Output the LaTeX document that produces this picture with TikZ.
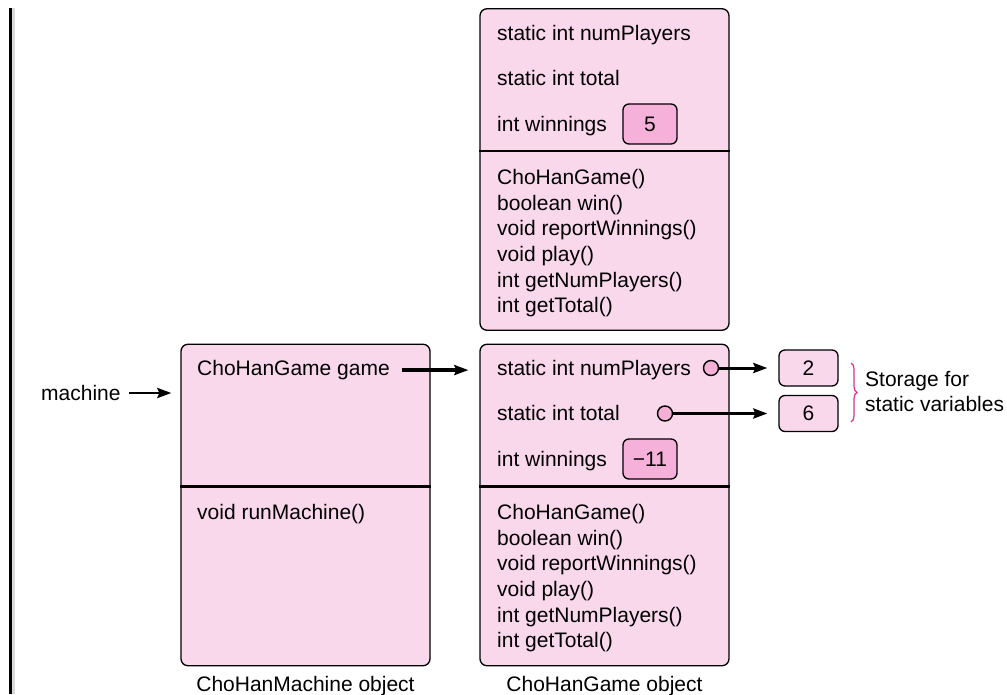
\documentclass[tikz,border=0pt]{standalone}
\usepackage{fontspec}
\setmainfont{Liberation Sans}
\usetikzlibrary{positioning, arrows.meta, decorations.pathreplacing}
\definecolor{ObjPink}{HTML}{F9D8EB}
\definecolor{ValPink}{HTML}{F5B1D9}
\definecolor{DotPink}{HTML}{F5B0D8}
\definecolor{BraceMagenta}{HTML}{E0308F}

\begin{document}
\begin{tikzpicture}[x=1pt, y=-1pt, >={Stealth[length=14pt, width=10pt, inset=2pt]},
    font=\fontsize{21}{25.6}\selectfont,
    objbox/.style={draw, line width=1.3pt, fill=ObjPink, rounded corners=7pt, minimum width=249pt, minimum height=321.5pt, inner sep=0pt},
    valbox/.style={draw, line width=1.3pt, fill=ValPink, rounded corners=6pt, minimum width=54pt, minimum height=40pt, inner sep=0pt},
    statbox/.style={draw, line width=1.3pt, fill=ObjPink, rounded corners=6pt, minimum width=59pt, minimum height=36pt, inner sep=0pt},
    txt/.style={inner sep=0pt, anchor=base west},
    methods/.style={inner sep=0pt, anchor=north west, align=left},
    dot/.style={circle, draw, line width=1.4pt, fill=DotPink, minimum size=15pt, inner sep=0pt},
    divider/.style={line width=2.6pt},
    ptr/.style={->, line width=2.6pt}]
      \useasboundingbox (0,0) rectangle (1007,694);

      % Page edge
      \draw[line width=3pt, black!15] (13.5,8) -- (13.5,694);
      \draw[line width=3pt] (10.5,8) -- (10.5,694);

      % Objects
      \node [objbox] (classbox) at (604.5,169.5) {};
      \node [objbox] (gamebox) at (604.5,505) {};
      \node [objbox] (machinebox) at (305.5,505) {};
      \draw[divider] ([yshift=-143pt]classbox.north west) -- ([yshift=-143pt]classbox.north east);
      \draw[divider] ([yshift=-143pt]gamebox.north west) -- ([yshift=-143pt]gamebox.north east);
      \draw[divider] ([yshift=-143pt]machinebox.north west) -- ([yshift=-143pt]machinebox.north east);

      % Class fields and methods
      \node [txt] (classnum) at (497,40.5) {static int numPlayers};
      \node [txt] (classtotal) at (497,85.5) {static int total};
      \node [txt] (classwin) at (497,131.5) {int winnings};
      \node [valbox] (classwinval) at (650,124) {5};
      \node [methods] (classmethods) at (497,169.2) {ChoHanGame()\\boolean win()\\void reportWinnings()\\void play()\\int getNumPlayers()\\int getTotal()};

      % Game object
      \node [txt] (gamenum) at (497,375.5) {static int numPlayers};
      \node [txt] (gametotal) at (497,420.5) {static int total};
      \node [txt] (gamewin) at (497,466.5) {int winnings};
      \node [valbox] (gamewinval) at (650,459) {−11};
      \node [methods] (gamemethods) at (497,504.2) {ChoHanGame()\\boolean win()\\void reportWinnings()\\void play()\\int getNumPlayers()\\int getTotal()};
      \node [dot] (numdot) at (711,368) {};
      \node [dot] (totaldot) at (665,413.5) {};

      % Machine object
      \node [txt] (gameref) at (197,375.5) {ChoHanGame game};
      \node [methods] (machinemethods) at (197,504.2) {void runMachine()};
      \node [txt] (machine) at (41,400.5) {machine};

      % Static storage
      \node [statbox] (numval) at (808.5,368) {2};
      \node [statbox] (totalval) at (808.5,413.5) {6};
      \coordinate (bracetop) at (851,363);
      \coordinate (bracebot) at (851,422);
      \draw[BraceMagenta, line width=1.2pt, decorate, decoration={brace, amplitude=6pt}] (bracetop) -- (bracebot);
      \node [inner sep=0pt, anchor=west, align=left] (storage) at (865,391.4) {Storage for\\static variables};

      % Labels
      \node [inner sep=0pt, anchor=base] (machinelabel) at (305.5,691.5) {ChoHanMachine object};
      \node [inner sep=0pt, anchor=base] (gamelabel) at (604.5,691.5) {ChoHanGame object};

      % Paths
      \draw[ptr, shorten <=8pt, shorten >=9pt] (machine.east) -- (machine.east -| machinebox.west);
      \draw[ptr, line width=4pt, shorten <=12pt, shorten >=11pt] (gameref.east) -- (gameref.east -| gamebox.west);
      \draw[ptr, line width=3pt, shorten >=11pt] (numdot) -- (numval);
      \draw[ptr, line width=3pt, shorten >=11pt] (totaldot) -- (totalval);
\end{tikzpicture}
\end{document}
